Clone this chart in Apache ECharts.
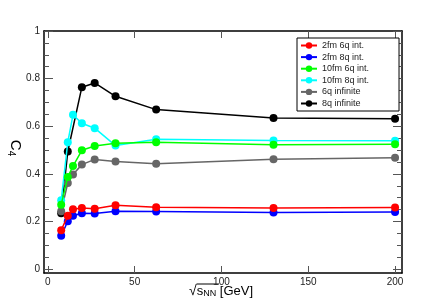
<!DOCTYPE html>
<html>
<head>
<meta charset="utf-8">
<script src="https://cdn.jsdelivr.net/npm/echarts@6/dist/echarts.min.js"></script>
<style>
html,body{margin:0;padding:0;background:#fff;}
#chart{width:447px;height:304px;}
</style>
</head>
<body>
<div id="chart"></div>
<script>
// ---- data ----
var energies = [7.7, 11.5, 14.5, 19.6, 27, 39, 62.4, 130, 200];
var seriesNames = ['2fm 6q int.', '2fm 8q int.', '10fm 6q int.', '10fm 8q int.', '6q infinite', '8q infinite'];
var red_2fm6q   = [0.164, 0.224, 0.252, 0.257, 0.254, 0.268, 0.260, 0.257, 0.259];
var blue_2fm8q  = [0.140, 0.201, 0.224, 0.235, 0.234, 0.243, 0.242, 0.238, 0.240];
var green_10fm6q= [0.271, 0.387, 0.433, 0.499, 0.517, 0.529, 0.533, 0.522, 0.525];
var cyan_10fm8q = [0.289, 0.533, 0.648, 0.613, 0.592, 0.519, 0.546, 0.540, 0.539];
var grey_6qinf  = [0.243, 0.362, 0.398, 0.439, 0.461, 0.452, 0.443, 0.462, 0.468];
var black_8qinf = [0.235, 0.494, null, 0.764, 0.782, 0.726, 0.670, 0.635, 0.632];
var xTicks = [0, 50, 100, 150, 200];
var yTicks = [0, 0.2, 0.4, 0.6, 0.8, 1];
var yMinorTicks = [0.05, 0.1, 0.15, 0.25, 0.3, 0.35, 0.45, 0.5, 0.55, 0.65, 0.7, 0.75, 0.85, 0.9, 0.95];

var allValues = [red_2fm6q, blue_2fm8q, green_10fm6q, cyan_10fm8q, grey_6qinf, black_8qinf];
var colors = ['#ff0000', '#0000ff', '#00ff00', '#00ffff', '#666666', '#000000'];

function pairs(vals) {
  var out = [];
  for (var i = 0; i < energies.length; i++) {
    if (vals[i] !== null) out.push([energies[i], vals[i]]);
  }
  return out;
}

var FONT = 'Liberation Sans, Arial, sans-serif';
var XMIN = -2.2, XMAX = 204, YMIN = -0.016, YMAX = 1.0;

var series = allValues.map(function (v, i) {
  return {
    name: seriesNames[i],
    type: 'line',
    data: pairs(v),
    xAxisIndex: 0, yAxisIndex: 0,
    symbol: 'circle',
    symbolSize: 8,
    z: 10 - i,
    lineStyle: { color: colors[i], width: 1.5 },
    itemStyle: { color: colors[i] },
    animation: false
  };
});

function tickAxis(pos, values, len, showLine, showLabel) {
  var isX = (pos === 'bottom' || pos === 'top');
  return {
    type: 'value',
    position: pos,
    min: isX ? XMIN : YMIN,
    max: isX ? XMAX : YMAX,
    axisLine: { show: showLine, onZero: false, lineStyle: { color: '#000', width: 1.5 } },
    axisTick: { show: true, inside: true, length: len, customValues: values, lineStyle: { color: '#555', width: 1 } },
    axisLabel: showLabel ? {
      show: true, customValues: values, color: '#222', fontSize: 10, fontFamily: FONT, margin: 4,
      formatter: function (v) { return String(Math.round(v * 100) / 100); }
    } : { show: false },
    splitLine: { show: false }
  };
}

var chart = echarts.init(document.getElementById('chart'), null, { renderer: 'canvas' });
chart.setOption({
  backgroundColor: '#fff',
  animation: false,
  grid: { left: 44, top: 31, width: 358, height: 242, containLabel: false },
  xAxis: [
    tickAxis('bottom', xTicks, 7, true, true),
    tickAxis('top', xTicks, 7, true, false)
  ],
  yAxis: [
    tickAxis('left', yTicks, 9, true, true),
    tickAxis('left', yMinorTicks, 5, false, false),
    tickAxis('right', yTicks, 9, true, false),
    tickAxis('right', yMinorTicks, 5, false, false)
  ],
  legend: {
    orient: 'vertical',
    left: 297, top: 38,
    data: seriesNames,
    itemWidth: 16, itemHeight: 8, itemGap: 2.6,
    padding: [3, 30, 3, 3],
    borderColor: '#000', borderWidth: 1,
    backgroundColor: '#fff',
    textStyle: { fontSize: 9, color: '#222', fontFamily: FONT }
  },
  graphic: [
    {
      type: 'text', x: 15, y: 148, rotation: -Math.PI / 2,
      style: {
        text: '{c|C}{s|4}',
        align: 'center', verticalAlign: 'middle',
        rich: {
          c: { fontSize: 15, fontFamily: FONT, fill: '#000' },
          s: { fontSize: 10, fontFamily: FONT, fill: '#000', padding: [8, 0, 0, 0] }
        }
      }
    },
    {
      type: 'text', x: 189, y: 291,
      style: {
        text: '{r|√}{s|s}{n|NN}{g| [GeV]}',
        align: 'left', verticalAlign: 'middle',
        rich: {
          r: { fontSize: 14, fontFamily: FONT, fill: '#000' },
          s: { fontSize: 13, fontFamily: FONT, fill: '#000' },
          n: { fontSize: 9, fontFamily: FONT, fill: '#000', padding: [6, 0, 0, 0] },
          g: { fontSize: 13, fontFamily: FONT, fill: '#000' }
        }
      }
    },
    {
      type: 'line',
      shape: { x1: 196.5, y1: 284, x2: 219, y2: 284 },
      style: { stroke: '#000', lineWidth: 1 }
    }
  ],
  series: series
});
</script>
</body>
</html>
